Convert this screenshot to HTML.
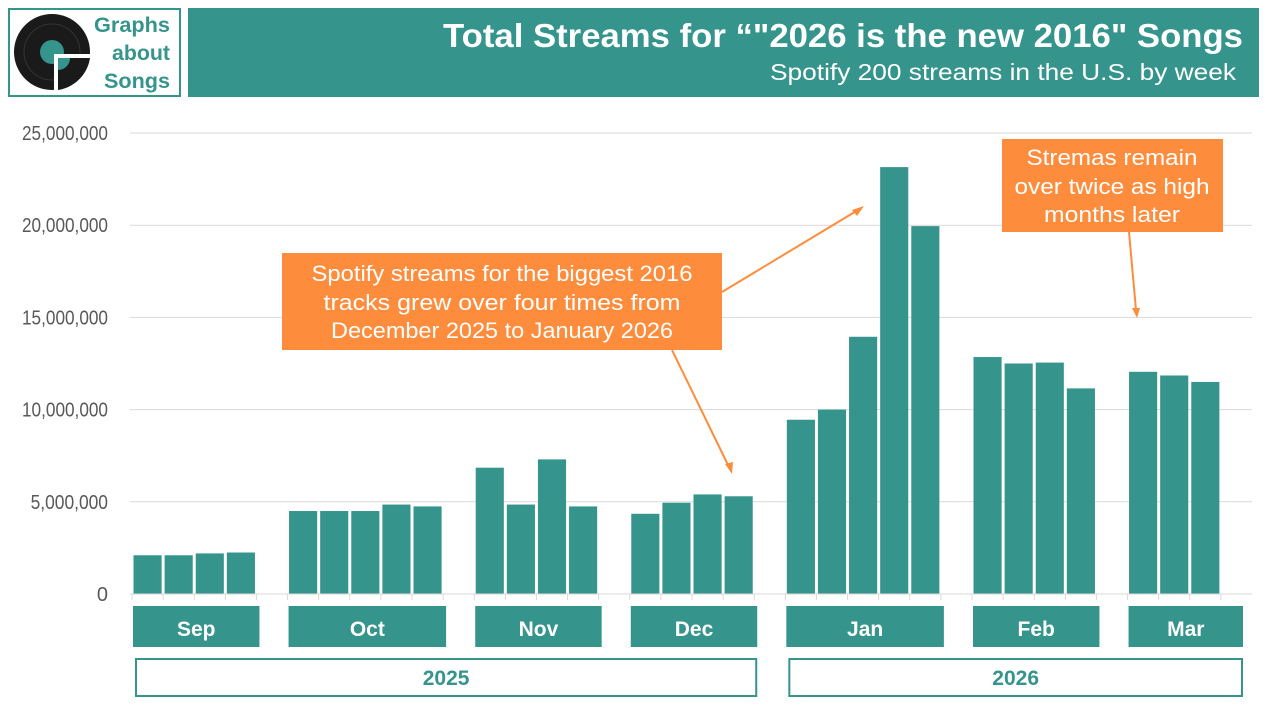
<!DOCTYPE html>
<html><head><meta charset="utf-8">
<style>
body{margin:0;width:1280px;height:720px;background:#fff;overflow:hidden;font-family:"Liberation Sans",sans-serif;}
svg text{font-family:"Liberation Sans",sans-serif;}
</style></head>
<body>
<svg id="chart" width="1280" height="720">
  <g>
    <rect x="9" y="9" width="171" height="87" fill="#fff" stroke="#35948c" stroke-width="2"/>
    <circle cx="52" cy="52" r="38" fill="#1a1a1a"/>
    <circle cx="52" cy="52" r="28" fill="none" stroke="#333" stroke-width="1"/>
    <circle cx="52" cy="52" r="12" fill="#35948c"/>
    <rect x="54" y="54" width="40" height="40" fill="#fff"/>
    <path d="M58 58 L90 58 A38 38 0 0 1 58 90 Z" fill="#1a1a1a"/>
    <path d="M58 58 L70 58 A12 12 0 0 1 58 70 Z" fill="#35948c"/>
    <text x="170" y="32" text-anchor="end" font-size="21" font-weight="bold" fill="#35948c" textLength="76" lengthAdjust="spacingAndGlyphs">Graphs</text>
    <text x="170" y="60" text-anchor="end" font-size="21" font-weight="bold" fill="#35948c" textLength="58" lengthAdjust="spacingAndGlyphs">about</text>
    <text x="170" y="88" text-anchor="end" font-size="21" font-weight="bold" fill="#35948c" textLength="66" lengthAdjust="spacingAndGlyphs">Songs</text>
  </g>
  <rect x="188" y="8" width="1071" height="89" fill="#35948c"/>
  <text x="1243" y="47" text-anchor="end" font-size="33" font-weight="bold" fill="#fff" textLength="800" lengthAdjust="spacingAndGlyphs">Total Streams for “"2026 is the new 2016"  Songs</text>
  <text x="1236" y="80" text-anchor="end" font-size="23" fill="#fff" textLength="466" lengthAdjust="spacingAndGlyphs">Spotify 200 streams in the U.S. by week</text>
  <g id="grid"></g>
  <g id="bars"></g>
  <g id="labels"></g>
  <g>
    <line x1="722" y1="292" x2="858" y2="210" stroke="#fd8d3c" stroke-width="2"/>
    <polygon points="864,206 852,210 857,216" fill="#fd8d3c"/>
    <line x1="672" y1="350" x2="729" y2="467" stroke="#fd8d3c" stroke-width="2"/>
    <polygon points="732,474 725,464 733,462" fill="#fd8d3c"/>
    <rect x="282" y="253" width="440" height="97" fill="#fd8d3c"/>
    <text x="502" y="281" text-anchor="middle" font-size="22" fill="#fff" textLength="381" lengthAdjust="spacingAndGlyphs">Spotify streams for the biggest 2016</text>
    <text x="502" y="310" text-anchor="middle" font-size="22" fill="#fff" textLength="357" lengthAdjust="spacingAndGlyphs">tracks grew over four times from</text>
    <text x="502" y="338" text-anchor="middle" font-size="22" fill="#fff" textLength="342" lengthAdjust="spacingAndGlyphs">December 2025 to January 2026</text>
  </g>
  <g>
    <line x1="1129" y1="232" x2="1136" y2="310" stroke="#fd8d3c" stroke-width="2"/>
    <polygon points="1137,318 1132,308 1140,308" fill="#fd8d3c"/>
    <rect x="1002" y="139" width="221" height="93" fill="#fd8d3c"/>
    <text x="1112" y="165" text-anchor="middle" font-size="22" fill="#fff" textLength="171" lengthAdjust="spacingAndGlyphs">Stremas remain</text>
    <text x="1112" y="194" text-anchor="middle" font-size="22" fill="#fff" textLength="195" lengthAdjust="spacingAndGlyphs">over twice as high</text>
    <text x="1112" y="222" text-anchor="middle" font-size="22" fill="#fff" textLength="136" lengthAdjust="spacingAndGlyphs">months later</text>
  </g>
</svg>
<script>
const months = ["Sep","Oct","Nov","Dec","Jan","Feb","Mar"];
const sepValues = [2.1, 2.1, 2.2, 2.25];
const octValues = [4.5, 4.5, 4.5, 4.85, 4.75];
const novValues = [6.85, 4.85, 7.3, 4.75];
const decValues = [4.35, 4.95, 5.4, 5.3];
const janValues = [9.45, 10.0, 13.95, 23.15, 19.95];
const febValues = [12.85, 12.5, 12.55, 11.15];
const marValues = [12.05, 11.85, 11.5];
const yTicks = [0, 5, 10, 15, 20, 25];
const yTickLabels = ["0","5,000,000","10,000,000","15,000,000","20,000,000","25,000,000"];
const years = ["2025","2026"];

const NS = "http://www.w3.org/2000/svg";
const series = [sepValues, octValues, novValues, decValues, janValues, febValues, marValues];
const x0 = 132, x1 = 1252, y0 = 594, yTop = 133, yMax = 25;
const totalSlots = series.reduce((s, a) => s + a.length + 1, 0);
const slot = (x1 - x0) / totalSlots;
const yScale = v => y0 - v / yMax * (y0 - yTop);
const xSlot = i => x0 + i * slot;
function mk(tag, attrs, parent) {
  const e = document.createElementNS(NS, tag);
  for (const k in attrs) e.setAttribute(k, attrs[k]);
  parent.appendChild(e); return e;
}
const grid = document.getElementById('grid');
yTicks.forEach((t, i) => {
  const y = yScale(t);
  const l = mk('line', {x1: 130, x2: x1, y1: y, y2: y, stroke: '#d9d9d9', 'stroke-width': 1}, grid);
  
  
  const attrs = {x: 108, y: y + 7, 'text-anchor': 'end', 'font-size': 20, fill: '#595959'};
  if (yTickLabels[i].length > 1) { attrs.textLength = yTickLabels[i].length * 8.6; attrs.lengthAdjust = 'spacingAndGlyphs'; }
  const tx = mk('text', attrs, grid);
  tx.textContent = yTickLabels[i];
  
  
});
const bars = document.getElementById('bars');
const labels = document.getElementById('labels');
let idx = 0;
const monthSpans = [];
series.forEach((vals, m) => {
  const start = idx;
  vals.forEach((v, k) => {
    const x = xSlot(idx) + 1.5;
    const r = mk('rect', {x: x, y: yScale(v), width: slot - 3, height: y0 - yScale(v), fill: '#35948c'}, bars);
    
    
    idx++;
  });
  for (let j = start; j <= idx; j++) {
    mk('line', {x1: xSlot(j), x2: xSlot(j), y1: y0, y2: y0 + 6, stroke: '#d9d9d9'}, bars);
  }
  monthSpans.push([start, Math.max(idx, start + 4)]);
  idx++;
});
mk('line', {x1: 130, x2: x1, y1: y0, y2: y0, stroke: '#d9d9d9', 'stroke-width': 1}, bars);
const boxEnd = sp => Math.min(xSlot(sp[1]) + 3, 1243);
monthSpans.forEach((sp, m) => {
  const a = xSlot(sp[0]) + 1, b = boxEnd(sp);
  const g = mk('g', {}, labels);
  
  
  mk('rect', {x: a, y: 606, width: b - a, height: 41, fill: '#35948c'}, g);
  const t = mk('text', {x: (a + b) / 2, y: 636, 'text-anchor': 'middle', 'font-size': 21, 'font-weight': 'bold', fill: '#fff'}, g);
  t.textContent = months[m];
});
const yearSpans = [[0, 3], [4, 6]];
yearSpans.forEach((ys, i) => {
  const a = xSlot(monthSpans[ys[0]][0]) + 4, b = boxEnd(monthSpans[ys[1]]) - 1;
  const g = mk('g', {}, labels);
  
  
  mk('rect', {x: a, y: 659, width: b - a, height: 37, fill: '#fff', stroke: '#35948c', 'stroke-width': 2}, g);
  const t = mk('text', {x: (a + b) / 2, y: 685, 'text-anchor': 'middle', 'font-size': 21, 'font-weight': 'bold', fill: '#35948c'}, g);
  t.textContent = years[i];
});
</script>
</body></html>
